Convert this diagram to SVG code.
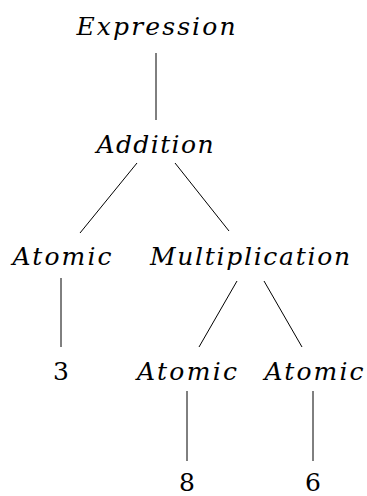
<svg xmlns="http://www.w3.org/2000/svg" width="367" height="496" viewBox="0 0 367 496">
<style>
#edges line{stroke:#000;stroke-width:1}
.t{font-family:"DejaVu Serif","Liberation Serif",serif;font-size:25px;text-anchor:middle;fill:#000}
.it{font-style:italic}
</style>
<rect width="367" height="496" fill="#fff"/>
<g id="edges">
<line x1="156" y1="53" x2="156" y2="120"/>
<line x1="137" y1="163" x2="80" y2="233"/>
<line x1="175" y1="163" x2="229" y2="231"/>
<line x1="61" y1="278" x2="61" y2="347"/>
<line x1="237" y1="281" x2="199" y2="347"/>
<line x1="264" y1="281" x2="302" y2="347"/>
<line x1="187" y1="391" x2="187" y2="461"/>
<line x1="313" y1="391" x2="313" y2="461"/>
</g>
<g id="expression"><text class="t it" x="156" y="35" textLength="159" lengthAdjust="spacing">Expression</text></g>
<g id="addition"><text class="t it" x="155" y="153" textLength="117" lengthAdjust="spacing">Addition</text></g>
<g id="atomic1"><text class="t it" x="62" y="265" textLength="99" lengthAdjust="spacing">Atomic</text></g>
<g id="multiplication"><text class="t it" x="250" y="265" textLength="200" lengthAdjust="spacing">Multiplication</text></g>
<g id="num3"><text class="t" x="61" y="380">3</text></g>
<g id="atomic2"><text class="t it" x="187" y="380" textLength="100" lengthAdjust="spacing">Atomic</text></g>
<g id="atomic3"><text class="t it" x="314" y="380" textLength="99" lengthAdjust="spacing">Atomic</text></g>
<g id="num8"><text class="t" x="187" y="491">8</text></g>
<g id="num6"><text class="t" x="313" y="491">6</text></g>
</svg>
